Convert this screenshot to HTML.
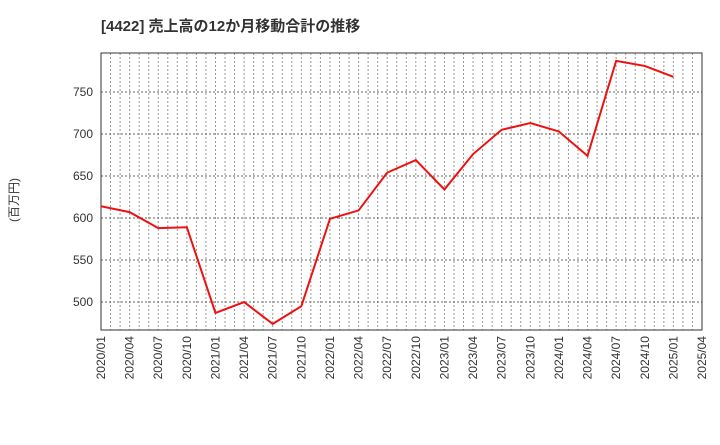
<!DOCTYPE html>
<html><head><meta charset="utf-8"><style>
body{margin:0;background:#fff;font-family:"Liberation Sans","Noto Sans CJK JP",sans-serif;}
</style></head><body>
<svg width="720" height="440" xmlns="http://www.w3.org/2000/svg" id="c">
<text x="101" y="31" font-size="15" font-weight="bold" fill="#333" font-family="Liberation Sans, Noto Sans CJK JP, sans-serif">[4422]  売上高の12か月移動合計の推移</text>
<text transform="translate(18,200) rotate(-90)" text-anchor="middle" font-size="12" fill="#333" font-family="Liberation Sans, Noto Sans CJK JP, sans-serif">(百万円)</text>
<g id="grid"></g><g id="axes"></g><g id="series"></g>
</svg>
<script>
const categories=["2020/01","2020/04","2020/07","2020/10","2021/01","2021/04","2021/07","2021/10","2022/01","2022/04","2022/07","2022/10","2023/01","2023/04","2023/07","2023/10","2024/01","2024/04","2024/07","2024/10","2025/01"];
const values=[614,607,588,589,487,500,474,495,599,609,654,669,634,676,705,713,703,674,787,781,768];
const xTickLabels=["2020/01","2020/04","2020/07","2020/10","2021/01","2021/04","2021/07","2021/10","2022/01","2022/04","2022/07","2022/10","2023/01","2023/04","2023/07","2023/10","2024/01","2024/04","2024/07","2024/10","2025/01","2025/04"];
const yTicks=[500,550,600,650,700,750];
const NS="http://www.w3.org/2000/svg";
const L=101,R=702,T=53,B=330;
const yMin=466.7,yMax=796.4;
const y=v=>B-(v-yMin)/(yMax-yMin)*(B-T);
const x=i=>L+i*(R-L)/(xTickLabels.length-1);
function mk(tag,attrs,parent){const e=document.createElementNS(NS,tag);for(const k in attrs)e.setAttribute(k,attrs[k]);parent.appendChild(e);return e;}
const grid=document.getElementById('grid'),axes=document.getElementById('axes'),series=document.getElementById('series');
const months=(xTickLabels.length-1)*3;
for(let m=1;m<months;m++){const xx=L+m*(R-L)/months;
const g=mk('line',{x1:xx,x2:xx,y1:T,y2:B,stroke:'#999','stroke-width':1,'stroke-dasharray':'2,2'},grid);

}
yTicks.forEach(v=>{
const g=mk('line',{x1:L,x2:R,y1:y(v),y2:y(v),stroke:'#666','stroke-width':1,'stroke-dasharray':'2,2'},grid);


const t=mk('text',{x:L-8,y:y(v)+4,'text-anchor':'end','font-size':12,fill:'#333'},axes);t.textContent=v;


});
xTickLabels.forEach((s,i)=>{
const t=mk('text',{transform:`translate(${x(i)+4},${B+6}) rotate(-90)`,'text-anchor':'end','font-size':12,fill:'#333'},axes);t.textContent=s;


});
const f=mk('rect',{x:L,y:T,width:R-L,height:B-T,fill:'none',stroke:'#333','stroke-width':1},axes);


const p=mk('polyline',{points:values.map((v,i)=>x(i)+','+y(v)).join(' '),fill:'none',stroke:'#ee1111','stroke-width':2},series);


</script>
</body></html>
